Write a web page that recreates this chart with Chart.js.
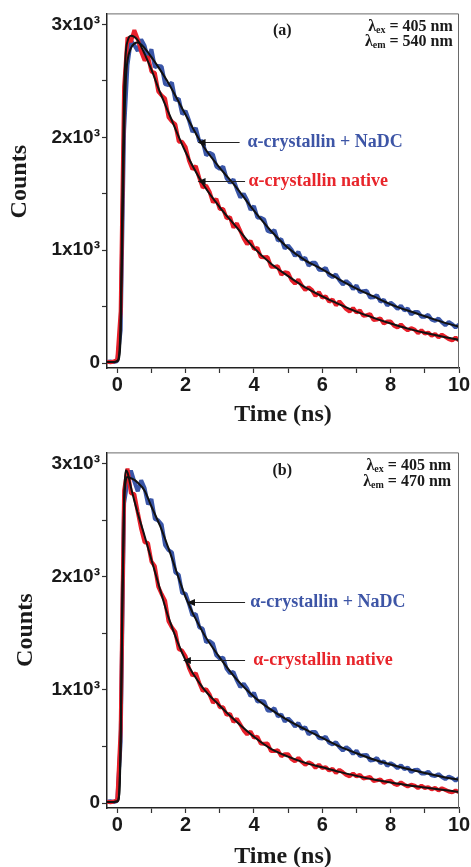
<!DOCTYPE html>
<html><head><meta charset="utf-8">
<script src="https://cdn.jsdelivr.net/npm/chart.js@4.4.1/dist/chart.umd.min.js"></script>
<style>
html,body{margin:0;padding:0;background:#fff;width:471px;height:867px;overflow:hidden;}
#wa{position:absolute;left:0;top:0;width:471px;height:439px;}
#wb{position:absolute;left:0;top:439px;width:471px;height:428px;}
</style></head><body>
<div id="wa"><canvas id="ca"></canvas></div>
<div id="wb"><canvas id="cb"></canvas></div>
<script>
// ---- sample times (ns) ----
const dataTimes = [-0.3,-0.2,-0.1,0,0.1,0.2,0.3,0.4,0.5,0.6,0.7,0.8,0.9,1.0,1.1,1.2,1.3,1.4,1.5,1.6,1.7,1.8,1.9,2.0,2.1,2.2,2.3,2.4,2.5,2.6,2.7,2.8,2.9,3.0,3.1,3.2,3.3,3.4,3.5,3.6,3.7,3.8,3.9,4.0,4.1,4.2,4.3,4.4,4.5,4.6,4.7,4.8,4.9,5.0,5.1,5.2,5.3,5.4,5.5,5.6,5.7,5.8,5.9,6.0,6.1,6.2,6.3,6.4,6.5,6.6,6.7,6.8,6.9,7.0,7.1,7.2,7.3,7.4,7.5,7.6,7.7,7.8,7.9,8.0,8.1,8.2,8.3,8.4,8.5,8.6,8.7,8.8,8.9,9.0,9.1,9.2,9.3,9.4,9.5,9.6,9.7,9.8,9.9,10.0];
const fitTimes = [-0.3,-0.1,0,0.05,0.1,0.15,0.2,0.25,0.3,0.4,0.5,0.6,0.8,1.0,1.25,1.5,2,2.5,3,3.5,4,4.5,5,5.5,6,6.5,7,7.5,8,8.5,9,9.5,10];

// ---- panel (a): lambda_em = 540 nm ----
const nativeA = [12,7,14,26,460,2450,2886,2846,2950,2872,
2758,2680,2716,2583,2571,2407,2370,2343,2178,2140,
2115,1961,1960,1914,1792,1718,1745,1641,1555,1574,
1518,1423,1454,1364,1365,1282,1293,1200,1239,1172,
1104,1053,1083,1010,1021,940,938,939,854,852,
858,783,804,798,735,703,740,687,647,671,
646,594,628,579,590,543,564,511,546,512,
477,456,487,448,466,419,424,434,382,386,
395,349,368,369,331,314,343,312,290,309,
296,264,290,261,270,242,258,227,252,232,
211,200,225,200];
const nadcA = [9,14,8,18,290,2060,2642,2858,2815,2765,
2868,2812,2694,2780,2623,2633,2627,2472,2462,2485,
2328,2343,2205,2233,2150,2048,2082,1965,1965,1840,
1864,1848,1741,1721,1741,1637,1598,1626,1541,1467,
1500,1443,1357,1391,1290,1288,1271,1170,1159,1177,
1084,1098,1014,1042,1003,948,986,917,933,862,
888,888,827,824,843,779,761,785,734,695,
728,701,654,688,629,637,640,580,582,602,
544,560,509,535,511,479,509,466,482,431,
452,453,411,411,427,384,374,395,361,335,
363,345,315,342];
const fitNativeA = [10,10,20,60,400,1500,2400,2750,2850,2900,2890,2860,2740,2600,2400,2220,1870,1590,1380,1200,1020,880,770,670,590,520,455,400,350,305,268,235,205];
const fitNadcA = [10,10,15,40,250,1100,2000,2500,2680,2790,2830,2840,2790,2710,2600,2480,2200,1930,1730,1550,1350,1170,1020,910,830,740,660,590,520,465,415,365,322];

// ---- panel (b): lambda_em = 470 nm ----
const nativeB = [12,7,14,22,650,2760,2956,2736,2730,2571,
2421,2304,2297,2134,2092,1911,1845,1788,1605,1551,
1511,1359,1346,1297,1191,1126,1148,1061,991,1007,
960,886,917,847,846,778,788,715,745,694,
642,607,632,577,587,525,523,525,459,459,
467,413,432,431,388,368,399,364,338,360,
345,311,339,308,318,287,302,266,294,272,
248,236,261,235,249,217,223,230,195,200,
209,177,193,196,170,159,182,162,147,162,
154,132,153,133,140,121,133,111,130,116,
102,94,111,95];
const nadcB = [10,15,9,20,540,2650,2842,2938,2840,2755,
2852,2782,2638,2685,2511,2497,2461,2278,2234,2214,
2037,2015,1855,1850,1760,1658,1671,1552,1541,1421,
1432,1408,1305,1277,1284,1186,1147,1158,1083,1024,
1055,1011,943,974,897,901,897,818,815,838,
765,783,719,748,717,675,708,655,670,607,
628,627,574,570,586,532,518,538,495,464,
493,471,434,463,415,422,425,376,379,397,
352,368,328,353,334,308,334,300,313,274,
292,294,261,261,277,244,238,255,230,211,
234,221,198,221];
const fitNativeB = [10,10,15,60,600,1900,2700,2940,2920,2790,2670,2560,2360,2150,1890,1640,1260,1020,860,715,585,478,410,355,316,275,240,208,182,158,138,118,98];
const fitNadcB = [10,10,15,50,500,1700,2600,2850,2880,2870,2855,2830,2760,2620,2450,2250,1820,1510,1285,1090,940,825,730,650,575,500,440,385,340,300,265,233,205];

// ---- ticks ----
const yTickPositions = [0,500,1000,1500,2000,2500,3000];
const yTickValues = [0,1000,2000,3000];
const yTickLabels = ['0','1x10³','2x10³','3x10³'];
const xTickPositions = [0,1,2,3,4,5,6,7,8,9,10];
const xTickValues = [0,2,4,6,8,10];
const xTickLabels = ['0','2','4','6','8','10'];

const seriesNames = ['α-crystallin + NaDC','α-crystallin native'];
const BLUE = '#3a56a8', RED = '#e8202a', BLUE_T = '#3d55a6', RED_T = '#e8252b';

function pts(t, v){ return t.map((tt,i)=>({x:tt,y:v[i]})); }

const notesPlugin = {
  id:'notes',
  afterDatasetsDraw(chart, args, o){
    const {ctx, chartArea:a, scales:{x,y}} = chart;
    ctx.save();
    ctx.strokeStyle='#6a6a6a'; ctx.lineWidth=1;
    ctx.beginPath();
    ctx.moveTo(a.left, a.top+0.5); ctx.lineTo(a.right-0.5, a.top+0.5); ctx.lineTo(a.right-0.5, a.bottom);
    ctx.stroke();
    ctx.fillStyle='#1a1a1a'; ctx.textAlign='center'; ctx.textBaseline='middle';
    ctx.font='bold 16px "Liberation Serif"';
    ctx.fillText(o.panel, x.getPixelForValue(o.panelAt[0]), y.getPixelForValue(o.panelAt[1]));
    ctx.textAlign='left'; ctx.textBaseline='alphabetic';
    o.lambdas.forEach(l=>{
      const main='bold 16px "Liberation Serif"', sub='bold 10px "Liberation Serif"';
      ctx.font=main; const w1=ctx.measureText('λ').width; const w3=ctx.measureText(l.rest).width;
      ctx.font=sub; const w2=ctx.measureText(l.sub).width;
      const xr=x.getPixelForValue(l.at[0]); const yb=y.getPixelForValue(l.at[1])+5;
      let x0=xr-(w1+w2+w3);
      ctx.font=main; ctx.fillText('λ',x0,yb); x0+=w1;
      ctx.font=sub; ctx.fillText(l.sub,x0,yb+2); x0+=w2;
      ctx.font=main; ctx.fillText(l.rest,x0,yb);
    });
    o.arrows.forEach(ar=>{
      const yy=Math.round(y.getPixelForValue(ar.y))+0.5;
      const xt=x.getPixelForValue(ar.tip), xs=x.getPixelForValue(ar.tail);
      ctx.strokeStyle='#222'; ctx.lineWidth=1;
      ctx.beginPath(); ctx.moveTo(xs,yy); ctx.lineTo(xt+6,yy); ctx.stroke();
      ctx.fillStyle='#111';
      ctx.beginPath(); ctx.moveTo(xt,yy); ctx.lineTo(xt+8,yy-3.5); ctx.lineTo(xt+8,yy+3.5); ctx.closePath(); ctx.fill();
      ctx.fillStyle=ar.color; ctx.font='bold 18px "Liberation Serif"'; ctx.textBaseline='middle';
      ctx.fillText(ar.text, x.getPixelForValue(ar.textX), yy);
      ctx.textBaseline='alphabetic';
    });
    ctx.restore();
  }
};

function makeChart(id, d, notes, geo){
  return new Chart(document.getElementById(id), {
    type:'line',
    data:{datasets:[
      {label:'fit native', data:pts(fitTimes,d.fitNative), borderColor:'#111', borderWidth:2, pointRadius:0, cubicInterpolationMode:'monotone', order:0},
      {label:'fit NaDC', data:pts(fitTimes,d.fitNadc), borderColor:'#111', borderWidth:2, pointRadius:0, cubicInterpolationMode:'monotone', order:0},
      {label:seriesNames[1], data:pts(dataTimes,d.native), borderColor:RED, borderWidth:4, pointRadius:0, tension:0, borderJoinStyle:'bevel', order:1},
      {label:seriesNames[0], data:pts(dataTimes,d.nadc), borderColor:BLUE, borderWidth:4, pointRadius:0, tension:0, borderJoinStyle:'bevel', order:2}
    ]},
    options:{
      responsive:true, maintainAspectRatio:false, animation:false, devicePixelRatio:1,
      layout:{padding:{top:13,right:12,left:0,bottom:0}},
      plugins:{legend:{display:false}, tooltip:{enabled:false}, notes:notes},
      scales:{
        x:{type:'linear', min:-0.3, max:10,
          border:{display:true,color:'#222',width:1.5},
          grid:{drawOnChartArea:false,drawTicks:true,tickLength:5,tickColor:'#333',tickWidth:1.2},
          afterBuildTicks:(s)=>{s.ticks=xTickPositions.map(v=>({value:v}));},
          ticks:{autoSkip:false, maxRotation:0, padding:0, color:'#1a1a1a',
            font:{family:'Liberation Sans',weight:'bold',size:20},
            callback:(v)=>{const i=xTickValues.indexOf(v); return i>=0?xTickLabels[i]:'';}},
          title:{display:true,text:'Time (ns)',color:'#1a1a1a',font:{family:'Liberation Serif',weight:'bold',size:24,lineHeight:1},padding:{top:0,bottom:geo.xTitlePad}},
          afterFit:(s)=>{s.height=geo.xh;}
        },
        y:{type:'linear', min:-44, max:3098,
          border:{display:true,color:'#222',width:1.5},
          grid:{drawOnChartArea:false,drawTicks:true,tickLength:5,tickColor:'#333',tickWidth:1.2},
          afterBuildTicks:(s)=>{s.ticks=yTickPositions.map(v=>({value:v}));},
          ticks:{autoSkip:false, padding:2, color:'#1a1a1a',
            font:{family:'Liberation Sans',weight:'bold',size:19},
            callback:(v)=>{const i=yTickValues.indexOf(v); return i>=0?yTickLabels[i]:'';}},
          title:{display:true,text:geo.yTitle,color:'#1a1a1a',font:{family:'Liberation Serif',weight:'bold',size:24,lineHeight:1},padding:{top:geo.yTitlePad,bottom:0}},
          afterFit:(s)=>{s.width=107;}
        }
      }
    },
    plugins:[notesPlugin]
  });
}

makeChart('ca',
  {native:nativeA, nadc:nadcA, fitNative:fitNativeA, fitNadc:fitNadcA},
  {panel:'(a)', panelAt:[4.83,2940],
   lambdas:[{sub:'ex',rest:' = 405 nm',at:[9.82,2985]},{sub:'em',rest:' = 540 nm',at:[9.82,2850]}],
   arrows:[{text:seriesNames[0],color:BLUE_T,y:1956,tip:2.35,tail:3.58,textX:3.81},
           {text:seriesNames[1],color:RED_T,y:1611,tip:2.35,tail:3.74,textX:3.84}]},
  {xh:71, xTitlePad:12, yTitlePad:8, yTitle:'   Counts'});

makeChart('cb',
  {native:nativeB, nadc:nadcB, fitNative:fitNativeB, fitNadc:fitNadcB},
  {panel:'(b)', panelAt:[4.83,2936],
   lambdas:[{sub:'ex',rest:' = 405 nm',at:[9.77,2989]},{sub:'em',rest:' = 470 nm',at:[9.77,2848]}],
   arrows:[{text:seriesNames[0],color:BLUE_T,y:1780,tip:2.04,tail:3.74,textX:3.89},
           {text:seriesNames[1],color:RED_T,y:1260,tip:1.92,tail:3.74,textX:3.98}]},
  {xh:59, xTitlePad:-2, yTitlePad:14, yTitle:'Counts'});
</script>
</body></html>
